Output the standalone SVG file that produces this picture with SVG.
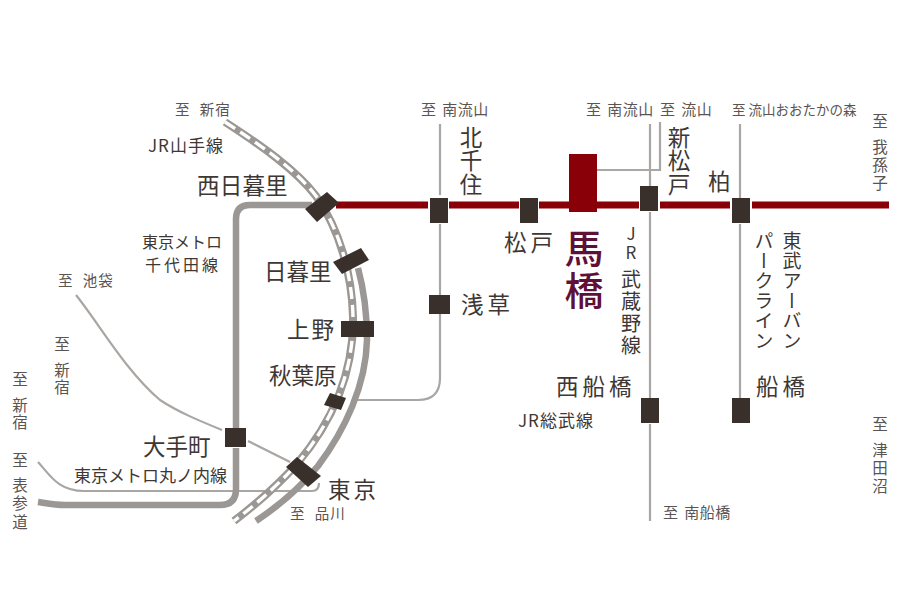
<svg xmlns="http://www.w3.org/2000/svg" width="900" height="600" viewBox="0 0 900 600">
<style>
text{font-family:"Noto Sans CJK JP","Noto Sans CJK SC",sans-serif;fill:#3e3733;font-weight:400}
.v{writing-mode:vertical-rl;text-orientation:upright;text-anchor:start}
.s{font-size:14.5px;fill:#5a5552;word-spacing:2px}
.sv{font-size:15.5px;fill:#5a5552}
.m{font-size:16px}
.l{font-size:22.5px}
.box{fill:#3a302b}
.thin{fill:none;stroke:#a9a6a3;stroke-width:2.2}
.thick{fill:none;stroke:#9a9794;stroke-width:6.5}
.red{fill:none;stroke:#8a0008;stroke-width:7}
.loop{fill:none;stroke:#9a9794;stroke-width:8}
.dash{fill:none;stroke:#fff;stroke-width:3.4;stroke-dasharray:12 6}
</style>
<rect width="900" height="600" fill="#fff"/>
<g id="connectors">
<path class="thin" d="M38 462C50 475 58 491 84 491H312Q319 491 319 483"/>
<path class="thin" d="M76 295C100 325 125 370 160 400C178 412 200 421 222 430"/>
<path class="thin" d="M248 441L290 462"/>
<path class="thin" d="M440 124V195M440 224V295M440 314V378Q440 400 418 400H357"/>
<path class="thin" d="M650 124V186M650 212V398M650 424V521"/>
<path class="thin" d="M660 122V170H597"/>
<path class="thin" d="M740 124V198M740 224V398"/>
<path class="thick" d="M312 205H250Q236 205 236 219V428M236 448V489Q236 505 220 505H65C55 505 45 503 38 502"/>
<path class="loop" d="M225 122C262 146 296 170 316 196C340 230 352 275 353 317C354 375 330 425 296 465C276 487 255 505 234 521"/>
<path class="dash" d="M225 122C262 146 296 170 316 196C340 230 352 275 353 317C354 375 330 425 296 465C276 487 255 505 234 521"/>
<path fill="none" stroke="#9a9794" stroke-width="6.5" d="M358 268C364 290 367 315 367 340C366 385 345 430 318 466C300 488 280 505 256 521"/>
<path class="red" d="M336 205H428M449 205H519M539 205H639M660 205H730M752 205H889"/>
</g>
<g id="st-nishinippori"><polygon class="box" points="327,192 339,203 317,222 305,209"/><text class="l" x="197" y="194" letter-spacing="0.2">西日暮里</text></g>
<g id="st-nippori"><polygon class="box" points="361,248 369,260 342,274 333,262"/><text class="l" x="264" y="280">日暮里</text></g>
<g id="st-ueno"><rect class="box" x="341" y="321" width="33" height="16"/><text class="l" x="287" y="338" letter-spacing="2">上野</text></g>
<g id="st-akihabara"><polygon class="box" points="330,393 346,398 341,410 324,405"/><text class="l" x="269" y="384">秋葉原</text></g>
<g id="st-tokyo"><polygon class="box" points="297,457 321,476 308,487 286,467"/><text class="l" x="328" y="498" letter-spacing="3">東京</text></g>
<g id="st-otemachi"><rect class="box" x="225" y="428" width="21" height="19"/><text class="l" x="143" y="455">大手町</text></g>
<g id="st-kitasenju"><rect class="box" x="430" y="198" width="18" height="25"/><text class="l v" x="471" y="126" letter-spacing="1">北千住</text></g>
<g id="st-asakusa"><rect class="box" x="429" y="295" width="21" height="19"/><text class="l" x="461" y="313" letter-spacing="4">浅草</text></g>
<g id="st-matsudo"><rect class="box" x="520" y="198" width="18" height="25"/><text class="l" x="504" y="251" letter-spacing="4">松戸</text></g>
<g id="st-mabashi"><rect x="569" y="154" width="28" height="58" fill="#8a0008"/><text class="v" x="584" y="229" font-size="39" style="fill:#5e1038;font-weight:500;letter-spacing:3px">馬橋</text></g>
<g id="st-shinmatsudo"><rect class="box" x="640" y="186" width="18" height="25"/><text class="l v" x="679" y="126" letter-spacing="1">新松戸</text></g>
<g id="st-kashiwa"><rect class="box" x="732" y="198" width="18" height="25"/><text class="l" x="708" y="190">柏</text></g>
<g id="st-nishifunabashi"><rect class="box" x="641" y="398" width="18" height="25"/><text class="l" x="556" y="395" letter-spacing="4">西船橋</text></g>
<g id="st-funabashi"><rect class="box" x="732" y="398" width="18" height="25"/><text class="l" x="756" y="395" letter-spacing="4">船橋</text></g>
<g id="labels">
<text class="s" x="175" y="115" style="word-spacing:5px" letter-spacing="1">至 新宿</text>
<text class="m" x="148" y="152" style="font-size:17px" letter-spacing="1">JR山手線</text>
<text class="m" x="142" y="248">東京メトロ</text>
<text class="m" x="145" y="271" letter-spacing="3">千代田線</text>
<text class="s" x="58" y="286" style="word-spacing:5px" letter-spacing="1">至 池袋</text>
<text class="sv v" x="62" y="336" letter-spacing="2">至 <tspan y="362">新宿</tspan></text>
<text class="sv v" x="20" y="371" letter-spacing="2">至 <tspan y="397">新宿</tspan></text>
<text class="sv v" x="20" y="452" letter-spacing="3">至 <tspan y="477">表参道</tspan></text>
<text class="m" x="74" y="482" style="font-size:17px">東京メトロ丸ノ内線</text>
<text class="s" x="290" y="519" style="word-spacing:5px" letter-spacing="1">至 品川</text>
<text class="s" x="421" y="115" style="font-size:15px" letter-spacing="0.5">至 南流山</text>
<text class="s" x="586" y="115" style="font-size:15px" letter-spacing="0.5">至 南流山</text>
<text class="s" x="660" y="115" style="font-size:15px" letter-spacing="0.5">至 流山</text>
<text class="s" x="732" y="115" style="font-size:13.5px;word-spacing:0">至 流山おおたかの森</text>
<text class="sv v" x="880" y="113" letter-spacing="2.5">至 <tspan y="139">我孫子</tspan></text>
<text class="sv v" x="880" y="416" letter-spacing="2.5">至 <tspan y="442">津田沼</tspan></text>
<text class="s" x="663" y="518" style="font-size:15px" letter-spacing="0.5">至 南船橋</text>
<text class="v" x="631" y="225" style="font-size:20px"><tspan style="font-size:17px">J</tspan><tspan y="244" style="font-size:17px">R</tspan><tspan y="269" letter-spacing="2">武蔵野線</tspan></text>
<text class="m v" x="792" y="231" style="font-size:19px" letter-spacing="1">東武アーバン</text>
<text class="m v" x="764" y="231" style="font-size:19px" letter-spacing="1">パークライン</text>
<text class="m" x="518" y="427" style="font-size:17px" letter-spacing="1">JR総武線</text>
</g>
</svg>
